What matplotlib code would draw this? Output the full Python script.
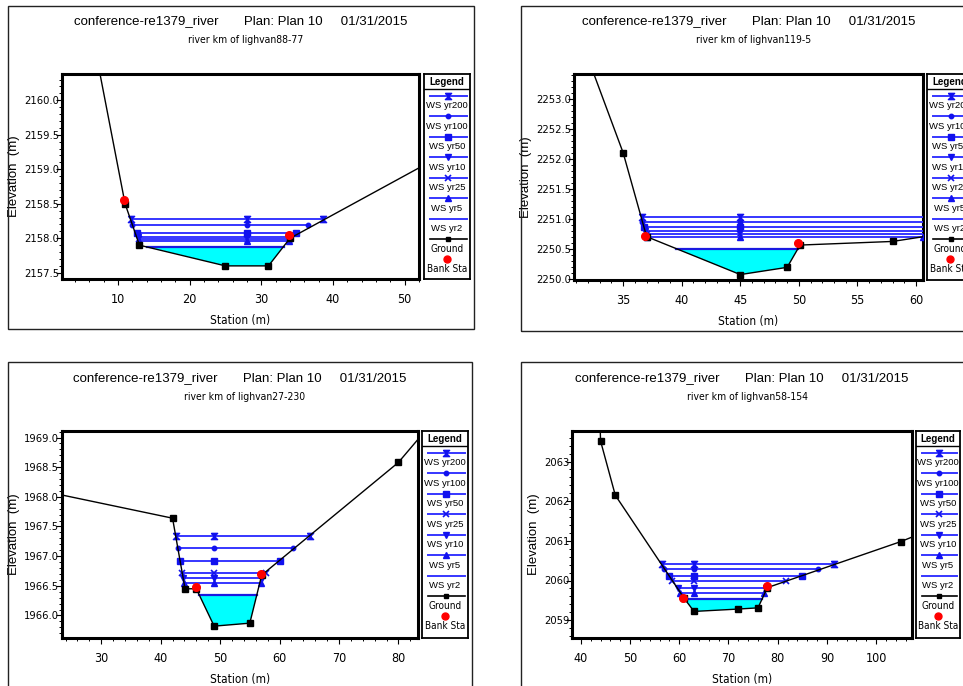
"""
Four HEC-RAS style cross sections (lighvan river), 2x2 layout,
each with a boxed legend on the right.
"""
import matplotlib
matplotlib.use("Agg")
import matplotlib.pyplot as plt
from matplotlib import font_manager
from matplotlib.font_manager import FontProperties
from matplotlib.patches import Rectangle
from matplotlib.ticker import MultipleLocator, FormatStrFormatter

W, H = 963, 686

PLAIN = "Liberation Sans"
# condensed face for tick labels if one is installed (HEC-RAS output is squeezed)
_cond = [f for f in font_manager.fontManager.ttflist
         if f.stretch in ("condensed", "semi-condensed", "extra-condensed")
         and f.style == "normal" and f.weight in (400, "normal")]
_cond.sort(key=lambda f: (0 if "Liberation" in f.name else 1 if "DejaVu Sans" == f.name else 2))
COND_FILE = _cond[0].fname if _cond else None


def narrow(size):
    if COND_FILE:
        return FontProperties(fname=COND_FILE, size=size)
    return FontProperties(family=PLAIN, size=size * 0.85)


TITLE = "conference-re1379_river       Plan: Plan 10     01/31/2015"

WS_ORDER_A = ["WS yr200", "WS yr100", "WS yr50", "WS yr10", "WS yr25", "WS yr5", "WS yr2"]
WS_ORDER_B = ["WS yr200", "WS yr100", "WS yr50", "WS yr25", "WS yr10", "WS yr5", "WS yr2"]

# ---- panel 1: top left ----
P1_SUB = "river km of lighvan88-77"
P1_GROUND_STA = [7.0, 11.0, 13.0, 25.0, 31.0, 34.0, 55.0]
P1_GROUND_ELEV = [2160.65, 2158.5, 2157.9, 2157.6, 2157.6, 2158.0, 2159.19]
P1_BANK_STA = [10.9, 33.9]
P1_BANK_ELEV = [2158.55, 2158.05]
P1_WS_ELEV = [2158.28, 2158.19, 2158.07, 2158.02, 2157.99, 2157.96, 2157.88]
P1_WS_LEFT = [11.8, 12.0, 12.6, 12.8, 12.9, 13.0, 14.0]
P1_WS_RIGHT = [38.6, 36.5, 34.8, 34.2, 34.0, 33.8, 33.1]
P1_WS_MID = 28.0

# ---- panel 2: top right ----
P2_SUB = "river km of lighvan119-5"
P2_GROUND_STA = [32.0, 35.0, 37.0, 45.0, 49.0, 50.1, 58.0, 62.0]
P2_GROUND_ELEV = [2253.67, 2252.1, 2250.71, 2250.08, 2250.2, 2250.57, 2250.63, 2250.75]
P2_BANK_STA = [36.9, 49.9]
P2_BANK_ELEV = [2250.72, 2250.6]
P2_WS_ELEV = [2251.03, 2250.95, 2250.87, 2250.80, 2250.75, 2250.71, 2250.51]
P2_WS_LEFT = [36.6, 36.6, 36.8, 36.9, 37.0, 37.0, 39.5]
P2_WS_RIGHT = [63.0, 63.0, 63.0, 63.0, 63.0, 60.6, 49.9]
P2_WS_MID = 45.0

# ---- panel 3: bottom left ----
P3_SUB = "river km of lighvan27-230"
P3_GROUND_STA = [22.0, 42.0, 44.1, 46.0, 49.0, 55.0, 57.0, 80.0, 85.0]
P3_GROUND_ELEV = [1968.06, 1967.64, 1966.45, 1966.45, 1965.82, 1965.87, 1966.68, 1968.58, 1969.17]
P3_BANK_STA = [45.9, 56.8]
P3_BANK_ELEV = [1966.48, 1966.70]
P3_WS_ELEV = [1967.34, 1967.13, 1966.91, 1966.72, 1966.63, 1966.55, 1966.35]
P3_WS_LEFT = [42.55, 42.9, 43.3, 43.6, 43.8, 43.9, 46.5]
P3_WS_RIGHT = [65.1, 62.3, 60.1, 57.8, 57.0, 56.9, 56.2]
P3_WS_MID = 49.0

# ---- panel 4: bottom right ----
P4_SUB = "river km of lighvan58-154"
P4_GROUND_STA = [43.9, 44.0, 47.0, 61.0, 63.0, 72.0, 76.0, 77.9, 105.0, 109.0]
P4_GROUND_ELEV = [2064.0, 2063.52, 2062.15, 2059.55, 2059.22, 2059.28, 2059.31, 2059.82, 2060.98, 2061.18]
P4_BANK_STA = [60.8, 77.8]
P4_BANK_ELEV = [2059.57, 2059.86]
P4_WS_ELEV = [2060.41, 2060.30, 2060.12, 2059.99, 2059.81, 2059.69, 2059.53]
P4_WS_LEFT = [56.4, 56.8, 57.9, 58.6, 59.8, 60.1, 61.0]
P4_WS_RIGHT = [91.4, 88.2, 84.9, 81.7, 77.7, 77.3, 76.8]
P4_WS_MID = 63.0

WS_BLUE = "#3636ff"
HOURGLASS = [(-1, 1), (1, 1), (-1, -1), (1, -1), (-1, 1)]
WS_STYLE = {
    "WS yr200": dict(marker=HOURGLASS, ms=4.5),
    "WS yr100": dict(marker="o", ms=3.2),
    "WS yr50": dict(marker="s", ms=4.2),
    "WS yr25": dict(marker="x", ms=4.0, mew=1.2),
    "WS yr10": dict(marker="v", ms=3.8),
    "WS yr5": dict(marker="^", ms=3.8),
    "WS yr2": dict(marker=None),
}


def px_rect(left, top, right, bottom):
    return [left / W, (H - bottom) / H, (right - left) / W, (bottom - top) / H]


def draw_legend(fig, rect, names):
    lg = fig.add_axes(px_rect(*rect))
    lg.set_xlim(0, 1)
    lg.set_ylim(0, 1)
    lg.set_xticks([])
    lg.set_yticks([])
    for s in lg.spines.values():
        s.set_linewidth(1.3)
    h = rect[3] - rect[1]

    def fy(p):
        return 1 - p / h

    lg.text(0.5, fy(7.7), "Legend", ha="center", va="center", fontsize=7,
            fontweight="bold", family=PLAIN)
    lg.plot([0, 1], [fy(15.3)] * 2, color="black", lw=1.0)
    step = 20.5
    for i, name in enumerate(names):
        y = fy(21.7 + i * step)
        st = WS_STYLE[name]
        lg.plot([0.13, 0.93], [y, y], color=WS_BLUE, lw=1.4)
        if st["marker"] is not None:
            lg.plot([0.53], [y], color="#1111ee", ls="none", **st)
        lg.text(0.5, fy(21.7 + i * step + 10), name, ha="center", va="center",
                fontsize=6.8, family=PLAIN)
    y = fy(21.7 + 7 * step)
    lg.plot([0.13, 0.93], [y, y], color="black", lw=1.2)
    lg.plot([0.53], [y], "s", color="black", ms=3.5)
    lg.text(0.5, fy(21.7 + 7 * step + 10), "Ground", ha="center", va="center",
            fontproperties=narrow(7.2))
    lg.plot([0.5], [fy(21.7 + 7 * step + 20)], "o", color="red", ms=5)
    lg.text(0.5, fy(21.7 + 7 * step + 30), "Bank Sta", ha="center", va="center",
            fontproperties=narrow(7.2))


def draw_panel(fig, box, ax_px, leg_px, sub, names, gsta, gelev, bsta, belev,
               ws_elev, ws_left, ws_right, ws_mid, xlim, ylim, xt, yt, yfmt):
    fig.add_artist(Rectangle((box[0] / W, (H - box[3]) / H), (box[2] - box[0]) / W,
                             (box[3] - box[1]) / H, transform=fig.transFigure,
                             fill=False, lw=1.0, edgecolor="#222222"))
    ax = fig.add_axes(px_rect(*ax_px))
    cx = (ax_px[0] + ax_px[2]) / 2 / W
    fig.text(cx, (H - ax_px[1] + 53) / H, TITLE, ha="center", va="center",
             fontsize=9.5, family=PLAIN)
    fig.text(cx + 5 / W, (H - ax_px[1] + 34) / H, sub, ha="center", va="center",
             fontproperties=narrow(7.5))

    # wetted area of the lowest profile
    ws2, l2, r2 = ws_elev[-1], ws_left[-1], ws_right[-1]
    inside = [(s, e) for s, e in zip(gsta, gelev) if l2 < s < r2]
    px = [l2] + [s for s, _ in inside] + [r2]
    py = [ws2] + [e for _, e in inside] + [ws2]
    ax.fill(px, py, color="#00ffff", zorder=1, lw=0)

    for name, e, l, r in zip(names, ws_elev, ws_left, ws_right):
        st = WS_STYLE[name]
        if st["marker"] is None:
            ax.plot([l, r], [e, e], color="#1a1ae0", lw=1.6, zorder=3)
        else:
            ax.plot([l, ws_mid, r], [e, e, e], color=WS_BLUE, lw=1.4,
                    mfc="#1111ee", mec="#1111ee", zorder=3, **st)

    ax.plot(gsta, gelev, color="black", lw=1.0, marker="s", ms=4, zorder=4)
    ax.plot(bsta, belev, "o", color="red", ms=5.5, zorder=5)

    ax.set_xlim(*xlim)
    ax.set_ylim(*ylim)
    ax.xaxis.set_major_locator(MultipleLocator(xt[0]))
    ax.xaxis.set_minor_locator(MultipleLocator(xt[1]))
    ax.yaxis.set_major_locator(MultipleLocator(yt[0]))
    ax.yaxis.set_minor_locator(MultipleLocator(yt[1]))
    ax.yaxis.set_major_formatter(FormatStrFormatter(yfmt))
    for s in ax.spines.values():
        s.set_linewidth(2.2)
    ax.tick_params(which="major", direction="out", length=4, width=0.8)
    ax.tick_params(which="minor", direction="out", length=2.5, width=0.7)
    ax.tick_params(axis="x", pad=6)
    ax.tick_params(axis="y", pad=-2)
    for lab in ax.get_xticklabels():
        lab.set_fontproperties(narrow(9))
    for lab in ax.get_yticklabels():
        lab.set_fontproperties(narrow(8))
    ax.set_xlabel("Station (m)", fontproperties=narrow(8.5), labelpad=6)
    ax.set_ylabel("Elevation  (m)", fontsize=9.5, family=PLAIN, labelpad=3)

    draw_legend(fig, leg_px, names)
    return ax


def main():
    fig = plt.figure(figsize=(W / 100, H / 100), dpi=100)

    draw_panel(fig, (8, 6, 474, 329), (62, 74, 419, 279), (424, 74, 470, 279),
               P1_SUB, WS_ORDER_A, P1_GROUND_STA, P1_GROUND_ELEV, P1_BANK_STA,
               P1_BANK_ELEV, P1_WS_ELEV, P1_WS_LEFT, P1_WS_RIGHT, P1_WS_MID,
               (2.2, 52.0), (2157.41, 2160.38), (10, 2), (0.5, 0.1), "%.1f")
    draw_panel(fig, (521, 6, 990, 331), (574, 74, 923, 280), (927, 74, 973, 280),
               P2_SUB, WS_ORDER_A, P2_GROUND_STA, P2_GROUND_ELEV, P2_BANK_STA,
               P2_BANK_ELEV, P2_WS_ELEV, P2_WS_LEFT, P2_WS_RIGHT, P2_WS_MID,
               (30.8, 60.6), (2249.99, 2253.41), (5, 1), (0.5, 0.1), "%.1f")
    draw_panel(fig, (8, 362, 472, 700), (62, 431, 418, 638), (422, 431, 468, 638),
               P3_SUB, WS_ORDER_B, P3_GROUND_STA, P3_GROUND_ELEV, P3_BANK_STA,
               P3_BANK_ELEV, P3_WS_ELEV, P3_WS_LEFT, P3_WS_RIGHT, P3_WS_MID,
               (23.4, 83.3), (1965.62, 1969.11), (10, 2), (0.5, 0.1), "%.1f")
    draw_panel(fig, (521, 362, 990, 700), (572, 431, 912, 638), (916, 431, 960, 638),
               P4_SUB, WS_ORDER_B, P4_GROUND_STA, P4_GROUND_ELEV, P4_BANK_STA,
               P4_BANK_ELEV, P4_WS_ELEV, P4_WS_LEFT, P4_WS_RIGHT, P4_WS_MID,
               (38.2, 107.3), (2058.55, 2063.77), (10, 2), (1, 0.2), "%d")

    fig.savefig("out.png", dpi=100)


if __name__ == "__main__":
    main()
